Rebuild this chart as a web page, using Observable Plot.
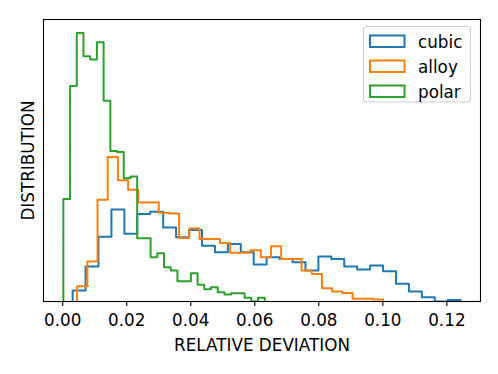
<!DOCTYPE html>
<html>
<head>
<meta charset="utf-8">
<script src="https://cdn.jsdelivr.net/npm/d3@7"></script>
<script src="https://cdn.jsdelivr.net/npm/@observablehq/plot@0.6"></script>
<style>
  html, body { margin: 0; padding: 0; background: white; }
  #chart { width: 498px; height: 374px; }
</style>
</head>
<body>
<div id="chart"></div>
<script>
// ---- data (relative heights, 30 equal bins per series) ----
const seriesNames = ["cubic", "alloy", "polar"];
const seriesColors = ["#1f77b4", "#ff7f0e", "#2ca02c"];
const cubicRange = [0.0031, 0.1243];
const alloyRange = [0.0045, 0.1001];
const polarRange = [0.0002, 0.0631];
const cubicCounts = [11, 35, 65, 92.3, 68, 87.7, 90, 74.3, 64.3, 71.7, 56, 49.3, 57.7, 49.3, 37, 44.3, 42.7, 39.3, 31, 45, 42.7, 35, 32, 36, 30.3, 17.7, 10, 4.3, 0, 1.5];
const alloyCounts = [15.3, 40, 102, 145, 121.7, 112, 99.3, 99.3, 89, 88.3, 63.7, 73.3, 62.7, 62.7, 58.7, 49, 49, 51.5, 44.3, 55.3, 42.7, 42.7, 31, 27.7, 13.3, 10, 8.5, 2.7, 2.7, 2];
const polarCounts = [102.7, 216, 269.3, 246, 242.7, 260, 201.3, 151, 150, 123.7, 125.3, 63.3, 63.3, 44.3, 48.3, 34.3, 31, 20.3, 20.3, 28.3, 16.7, 12.3, 14.3, 9.3, 7, 8.3, 8.3, 3.7, 0, 3.7];
const xTicks = [0, 0.02, 0.04, 0.06, 0.08, 0.10, 0.12];
const xLabel = "RELATIVE DEVIATION";
const yLabel = "DISTRIBUTION";

const ranges = [cubicRange, alloyRange, polarRange];
const counts = [cubicCounts, alloyCounts, polarCounts];

// step outline (matplotlib histtype="step")
function stepOutline(range, c) {
  const n = c.length, w = (range[1] - range[0]) / n;
  const pts = [{x: range[0], y: 0}];
  for (let i = 0; i < n; i++) {
    pts.push({x: range[0] + i * w, y: c[i]});
    pts.push({x: range[0] + (i + 1) * w, y: c[i]});
  }
  pts.push({x: range[1], y: 0});
  return pts;
}

const maxY = d3.max(counts.flat());
const fontFamily = "DejaVu Sans, sans-serif";
const fs = 16.8;

const chart = Plot.plot({
  width: 498,
  height: 374,
  marginLeft: 43,
  marginRight: 18,
  marginTop: 19,
  marginBottom: 73,
  style: {fontFamily, fontSize: fs + "px", background: "white", color: "black", overflow: "visible"},
  x: {domain: [-0.006, 0.1305]},
  y: {domain: [0, maxY * 1.05], axis: null},
  marks: [
    ...seriesNames.map((s, i) => Plot.line(stepOutline(ranges[i], counts[i]), {
      x: "x", y: "y", stroke: seriesColors[i], strokeWidth: 2, clip: "frame"
    })),
    Plot.frame({stroke: "black", strokeWidth: 1.1}),
    Plot.axisX({ticks: xTicks, tickFormat: d3.format(".2f"), tickSize: 5, tickPadding: 8, label: null, strokeWidth: 1.1}),
    Plot.text([xLabel], {frameAnchor: "bottom", dy: 44, lineAnchor: "middle", fontSize: fs}),
    Plot.text([yLabel], {frameAnchor: "left", dx: -15, rotate: -90, lineAnchor: "middle", textAnchor: "middle", fontSize: fs})
  ]
});

// legend (matplotlib-style, upper right)
const svg = d3.select(chart);
const lg = svg.append("g")
  .attr("font-family", fontFamily).attr("font-size", fs).attr("text-anchor", "start");
lg.append("rect")
  .attr("x", 363.5).attr("y", 26.5).attr("width", 107).attr("height", 75.5)
  .attr("rx", 3).attr("fill", "white").attr("fill-opacity", 0.8)
  .attr("stroke", "#cccccc").attr("stroke-width", 1.1);
seriesNames.forEach((s, i) => {
  const y0 = 35.5 + i * 25;
  lg.append("rect")
    .attr("x", 370).attr("y", y0).attr("width", 34.5).attr("height", 11.5)
    .attr("fill", "none").attr("stroke", seriesColors[i]).attr("stroke-width", 2);
  lg.append("text")
    .attr("x", 418).attr("y", y0 + 12).attr("fill", "black")
    .attr("text-anchor", "start").text(s);
});

document.getElementById("chart").appendChild(chart);
</script>
</body>
</html>
